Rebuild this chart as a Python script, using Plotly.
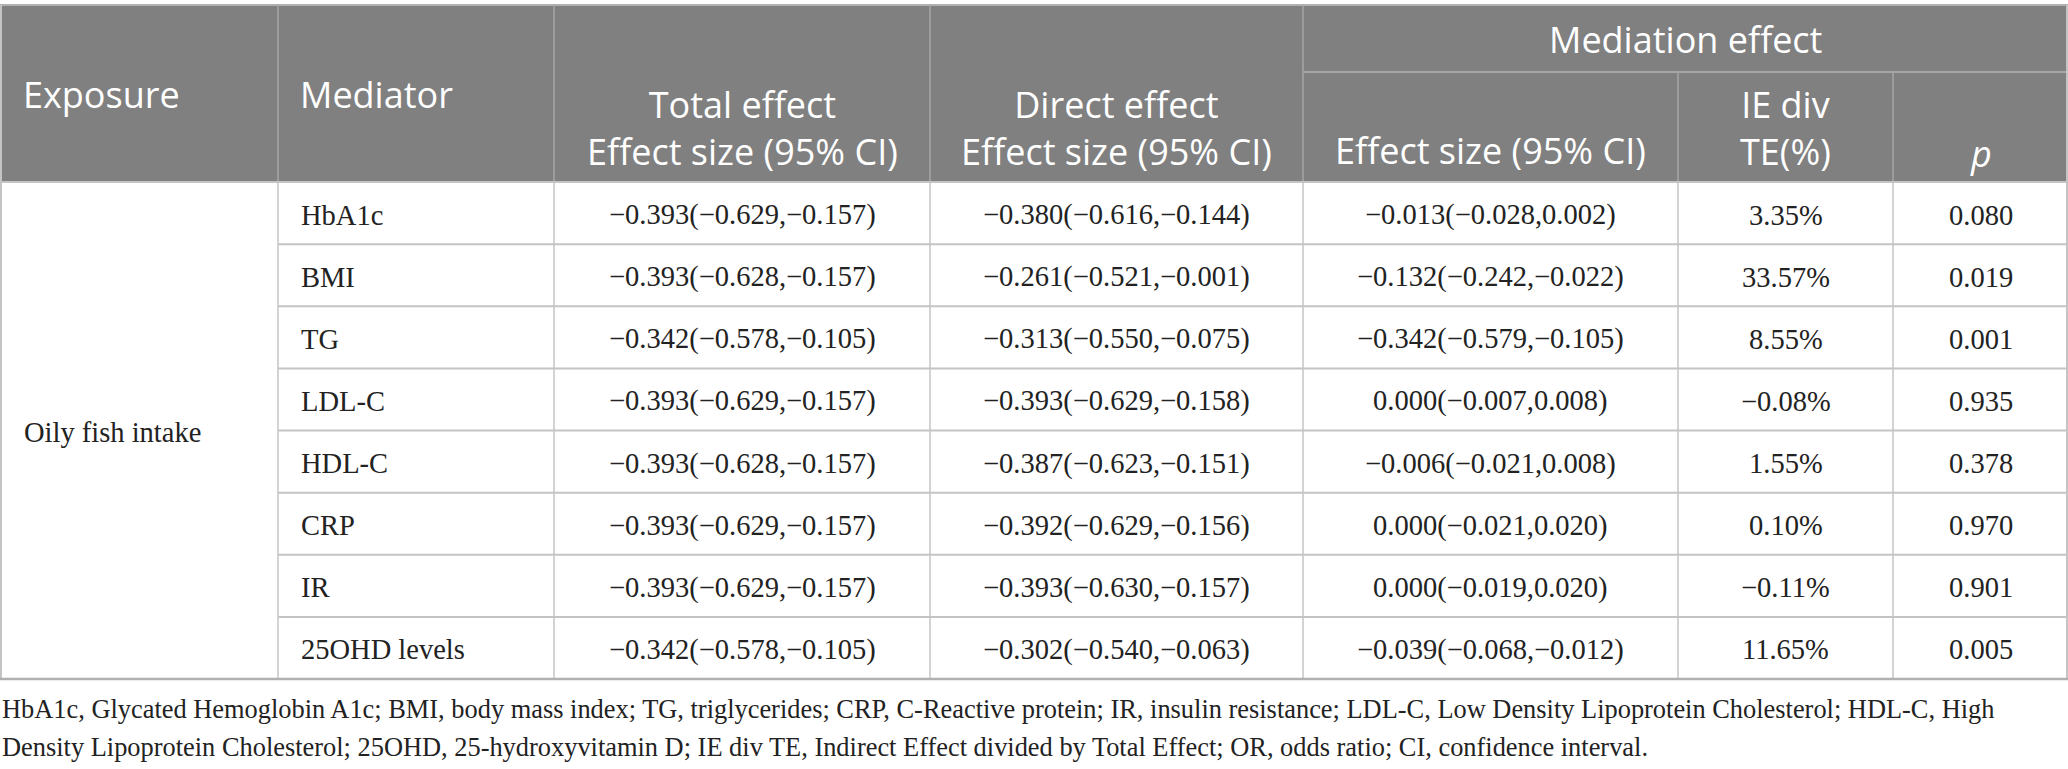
"""Mediation analysis table: oily fish intake, mediators and effects."""
import plotly.graph_objects as go

W, H = 2068, 769

exposure = "Oily fish intake"
mediators = ["HbA1c", "BMI", "TG", "LDL-C", "HDL-C", "CRP", "IR", "25OHD levels"]
total_effect = [
    "−0.393(−0.629,−0.157)", "−0.393(−0.628,−0.157)", "−0.342(−0.578,−0.105)",
    "−0.393(−0.629,−0.157)", "−0.393(−0.628,−0.157)", "−0.393(−0.629,−0.157)",
    "−0.393(−0.629,−0.157)", "−0.342(−0.578,−0.105)",
]
direct_effect = [
    "−0.380(−0.616,−0.144)", "−0.261(−0.521,−0.001)", "−0.313(−0.550,−0.075)",
    "−0.393(−0.629,−0.158)", "−0.387(−0.623,−0.151)", "−0.392(−0.629,−0.156)",
    "−0.393(−0.630,−0.157)", "−0.302(−0.540,−0.063)",
]
mediation_effect = [
    "−0.013(−0.028,0.002)", "−0.132(−0.242,−0.022)", "−0.342(−0.579,−0.105)",
    "0.000(−0.007,0.008)", "−0.006(−0.021,0.008)", "0.000(−0.021,0.020)",
    "0.000(−0.019,0.020)", "−0.039(−0.068,−0.012)",
]
ie_div_te = ["3.35%", "33.57%", "8.55%", "−0.08%", "1.55%", "0.10%", "−0.11%", "11.65%"]
p_values = ["0.080", "0.019", "0.001", "0.935", "0.378", "0.970", "0.901", "0.005"]

footnote = [
    "HbA1c, Glycated Hemoglobin A1c; BMI, body mass index; TG, triglycerides; CRP, C-Reactive protein; "
    "IR, insulin resistance; LDL-C, Low Density Lipoprotein Cholesterol; HDL-C, High",
    "Density Lipoprotein Cholesterol; 25OHD, 25-hydroxyvitamin D; IE div TE, Indirect Effect divided by "
    "Total Effect; OR, odds ratio; CI, confidence interval.",
]

# layout in pixels
col_edges = [0, 278, 554, 930, 1303, 1678, 1893, 2068]
top, sub_line, head_bottom, table_bottom = 5, 72, 182, 679
row_h = (table_bottom - head_bottom) / len(mediators)

HEAD_BG = "#808080"
HEAD_LINE = "#a6a6a6"
GRID = "#c4c4c4"
HEAD_FONT = dict(family="Open Sans, Lato, sans-serif", size=36, color="white")
BODY_FONT = dict(family="Liberation Serif, Times New Roman, serif", size=28.5, color="#222222")
FOOT_FONT = dict(family="Liberation Serif, Times New Roman, serif", size=26.4, color="#222222")

fig = go.Figure()
shapes = []
annotations = []


def hline(x0, x1, y, color, width=1.5):
    shapes.append(dict(type="line", x0=x0, x1=x1, y0=y, y1=y, line=dict(color=color, width=width)))


def vline(x, y0, y1, color, width=1.5):
    shapes.append(dict(type="line", x0=x, x1=x, y0=y0, y1=y1, line=dict(color=color, width=width)))


def text(x, y, s, font, anchor="center"):
    annotations.append(dict(x=x, y=y, text=s, showarrow=False, font=font, xanchor=anchor,
                            yanchor="middle", align=anchor if anchor != "center" else "center"))


# header background
shapes.append(dict(type="rect", x0=0, x1=W, y0=top, y1=head_bottom, fillcolor=HEAD_BG,
                   line=dict(width=0), layer="below"))
hline(0, W, top, "#b0b0b0", 2)
for x in col_edges[1:-1]:
    y0 = sub_line if x == col_edges[5] or x == col_edges[6] else top
    vline(x, y0, head_bottom, HEAD_LINE)
hline(col_edges[4], W, sub_line, HEAD_LINE, 2)
hline(0, W, head_bottom, GRID, 2)

# body grid
for i in range(1, len(mediators)):
    hline(col_edges[1], W, head_bottom + i * row_h, GRID, 2)
for x in col_edges[1:-1]:
    vline(x, head_bottom, table_bottom, GRID)
vline(1, top, table_bottom, GRID, 2)
vline(W - 1, top, table_bottom, GRID, 2)
hline(0, W, table_bottom, "#b0b0b0", 2.5)

# header text
mid_head = (top + head_bottom) / 2
two_line = 128


def cx(i):
    return (col_edges[i] + col_edges[i + 1]) / 2


text(col_edges[0] + 21, mid_head + 1, "Exposure", HEAD_FONT, "left")
text(col_edges[1] + 20, mid_head + 1, "Mediator", HEAD_FONT, "left")
text(cx(2), two_line, "Total effect<br>Effect size (95% CI)", HEAD_FONT)
text(cx(3), two_line, "Direct effect<br>Effect size (95% CI)", HEAD_FONT)
text((col_edges[4] + W) / 2, (top + sub_line) / 2 + 1, "Mediation effect", HEAD_FONT)
text(cx(4), 150, "Effect size (95% CI)", HEAD_FONT)
text(cx(5), two_line, "IE div<br>TE(%)", HEAD_FONT)
text(cx(6), 153, "<i>p</i>", HEAD_FONT)

# body text
text(col_edges[0] + 22, (head_bottom + table_bottom) / 2 + 2, exposure, BODY_FONT, "left")
columns = [total_effect, direct_effect, mediation_effect, ie_div_te, p_values]
for r, med in enumerate(mediators):
    yc = head_bottom + (r + 0.5) * row_h + 2
    text(col_edges[1] + 21, yc, med, BODY_FONT, "left")
    for c, vals in enumerate(columns):
        text(cx(c + 2), yc, vals[r], BODY_FONT)

# footnote
for k, ln in enumerate(footnote):
    text(0, 709 + k * 38, ln, FOOT_FONT, "left")

fig.update_layout(
    width=W, height=H,
    margin=dict(l=0, r=0, t=0, b=0),
    paper_bgcolor="white", plot_bgcolor="white",
    xaxis=dict(range=[0, W], visible=False, fixedrange=True),
    yaxis=dict(range=[H, 0], visible=False, fixedrange=True),
    shapes=shapes, annotations=annotations,
    showlegend=False,
)
# drop the default body margin so the figure sits at the page corner
fig.write_html("out.html", config={"displayModeBar": False},
               post_script="document.body.style.margin = '0';")
